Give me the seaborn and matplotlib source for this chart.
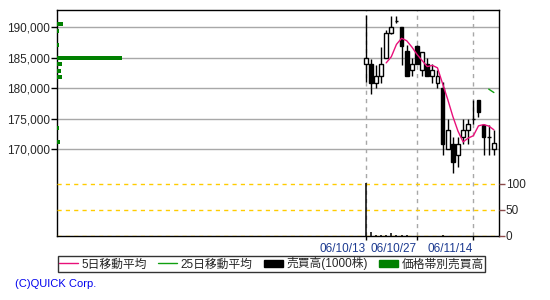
import numpy as np
import pandas as pd
import matplotlib
matplotlib.use("Agg")
import matplotlib.pyplot as plt
from matplotlib.lines import Line2D
from matplotlib.patches import Patch
from matplotlib.ticker import FuncFormatter
import seaborn as sns

# ---------------- data ----------------
dates = ["06/10/13", "06/10/16", "06/10/17", "06/10/18", "06/10/19", "06/10/20",
         "06/10/23", "06/10/24", "06/10/25", "06/10/26", "06/10/27",
         "06/10/30", "06/10/31", "06/11/01", "06/11/02",
         "06/11/06", "06/11/07", "06/11/08", "06/11/09", "06/11/10",
         "06/11/13", "06/11/14", "06/11/15", "06/11/16", "06/11/17", "06/11/20"]
opens = [183900, 183900, 180900, 181900, 184900, 189000, 191000, 189950, 186050, 182900,
         186900, 182900, 183900, 181900, 180900, 180000, 170000, 170900, 169000, 171900,
         173060, 175000, 178000, 174000, 171900, 170000]
highs = [192000, 184700, 183800, 186800, 189500, 191860, 191860, 189950, 187000, 184860,
         187000, 185960, 184860, 183900, 182900, 180930, 175000, 171900, 171900, 175000,
         175000, 178000, 178000, 174040, 174000, 173060]
lows = [181000, 178960, 179950, 180900, 184860, 188900, 190600, 183800, 181900, 181900,
        183880, 181900, 181900, 180900, 179950, 169000, 170000, 166000, 167000, 170900,
        170900, 174040, 175300, 169000, 169000, 169000]
closes = [184900, 180900, 181900, 183900, 189000, 189950, 191000, 186900, 181900, 183900,
          183900, 185960, 181900, 182900, 181900, 170900, 173060, 167900, 170900, 173060,
          174040, 175000, 176000, 171900, 171900, 170930]
volumes = [101, 7.7, 2.5, 2.5, 2.5, 5.8, 2.5, 2.5, 1.3, 0.3, 0.3, 0.3, 0.3, 0.3, 0.3,
           1.3, 0.3, 0.3, 0.3, 0.3, 0.3, 0.3, 0.3, 0.3, 0.3, 0.3]

band_prices = [190450, 189400, 187050, 184950, 183950, 182850, 181750, 173400, 171100]
band_volumes = [9.2, 2.6, 2.6, 100, 7.2, 5.7, 7.2, 2.6, 4.1]

price_ticks = [170000, 175000, 180000, 185000, 190000]
volume_ticks = [0, 50, 100]
date_tick_labels = ["06/10/13", "06/10/27", "06/11/14"]
legend_labels = ["5日移動平均", "25日移動平均", "売買高(1000株)", "価格帯別売買高"]
copyright_text = "(C)QUICK Corp."

# ---------------- style ----------------
sns.set_style("white")
plt.rcParams["font.family"] = ["Liberation Sans", "Noto Sans CJK JP", "DejaVu Sans"]
plt.rcParams["axes.linewidth"] = 1.0

MA5_C = "#e8107a"
MA25_C = "#10a010"
GREEN = "#008000"
GRID_C = "#a8a8a8"
YEL = "#ffcc00"
NAVY = "#1c3a90"

df = pd.DataFrame({"date": dates, "open": opens, "high": highs, "low": lows,
                   "close": closes, "volume": volumes})
df["x"] = np.arange(len(df))
df["ma5"] = df["close"].rolling(5).mean()
df["ma25"] = df["close"].rolling(25).mean()

fig = plt.figure(figsize=(5.5, 3.0), dpi=100)
L, R, T, B = 57 / 550, 499 / 550, 1 - 10 / 300, 1 - 236 / 300
ax = fig.add_axes([L, B, R - L, T - B])

# price axis
ax.set_xlim(-60.2, 26.0)
ax.set_ylim(155740, 192790)
for p in price_ticks:
    ax.axhline(p, color=GRID_C, lw=1, zorder=1)
tick_idx = [dates.index(d) for d in date_tick_labels]
for xi in tick_idx:
    ax.axvline(xi, color=GRID_C, lw=1, ls=(0, (3, 3)), zorder=1)

# candles
w = 0.72
ax.vlines(df["x"], df["low"], df["high"], color="black", lw=1, zorder=3)
for _, r in df.iterrows():
    lo, hi = min(r["open"], r["close"]), max(r["open"], r["close"])
    if hi - lo < 1:
        ax.hlines(r["close"], r["x"] - w / 2, r["x"] + w / 2, color="black", lw=1, zorder=4)
    else:
        fc = "white" if r["close"] > r["open"] else "black"
        ax.bar(r["x"], hi - lo, bottom=lo, width=w, color=fc, edgecolor="black",
               lw=1, zorder=4)

sns.lineplot(data=df, x="x", y="ma5", ax=ax, color=MA5_C, lw=1, zorder=5)
sns.lineplot(data=df, x="x", y="ma25", ax=ax, color=MA25_C, lw=1, zorder=5)

ax.set_yticks(price_ticks)
ax.yaxis.set_major_formatter(FuncFormatter(lambda v, _: f"{int(v):,}"))
ax.set_xticks(tick_idx)
ax.set_xticklabels(date_tick_labels, color=NAVY, fontsize=8.5, ha="right")
ax.tick_params(axis="y", direction="out", length=4, width=1, color="black",
               labelsize=8.5, pad=1, left=True)
ax.tick_params(axis="x", direction="out", length=3, width=1, color="black", pad=2,
               bottom=True)
ax.set_xlabel("")
ax.set_ylabel("")
for s in ax.spines.values():
    s.set_color("black")
    s.set_linewidth(1)

# volume axis
ax2 = ax.twinx()
ax2.set_ylim(0, 434.6)
for v in volume_ticks:
    ax2.axhline(v, color=YEL, lw=1, ls=(0, (3, 3)), zorder=2)
ax2.vlines(df["x"], 0, df["volume"], color="black", lw=1.1, zorder=3)
ax2.set_yticks(volume_ticks)
ax2.set_yticklabels([str(v) for v in volume_ticks])
ax2.tick_params(axis="y", direction="out", length=4, width=1, color="#8a4a4a",
                labelsize=8.5, pad=1, right=True)
ax2.set_ylabel("")
for s in ax2.spines.values():
    s.set_visible(False)

# price-band volume
ax3 = ax.twiny()
ax3.set_xlim(0, 100 * 442 / 65)
ax3.barh(band_prices, band_volumes, height=650, left=0, color=GREEN, lw=0, zorder=3)
ax3.set_xticks([])
for s in ax3.spines.values():
    s.set_visible(False)

# legend
handles = [Line2D([], [], color=MA5_C, lw=1),
           Line2D([], [], color=MA25_C, lw=1),
           Patch(facecolor="black", edgecolor="black"),
           Patch(facecolor=GREEN, edgecolor=GREEN)]
leg = fig.legend(handles, legend_labels, loc="upper left",
                 bbox_to_anchor=(58 / 550, 1 - 256 / 300), ncol=4, frameon=True,
                 fancybox=False, edgecolor="black", fontsize=8.5, borderaxespad=0,
                 handlelength=1.6, handleheight=0.6, handletextpad=0.3,
                 columnspacing=0.95, borderpad=0.12)
leg.get_frame().set_linewidth(1)

fig.text(15 / 550, 1 - 284 / 300, copyright_text, color="#0000ee", fontsize=8,
         va="center", ha="left")

fig.savefig("out.png", dpi=100, facecolor="white")
